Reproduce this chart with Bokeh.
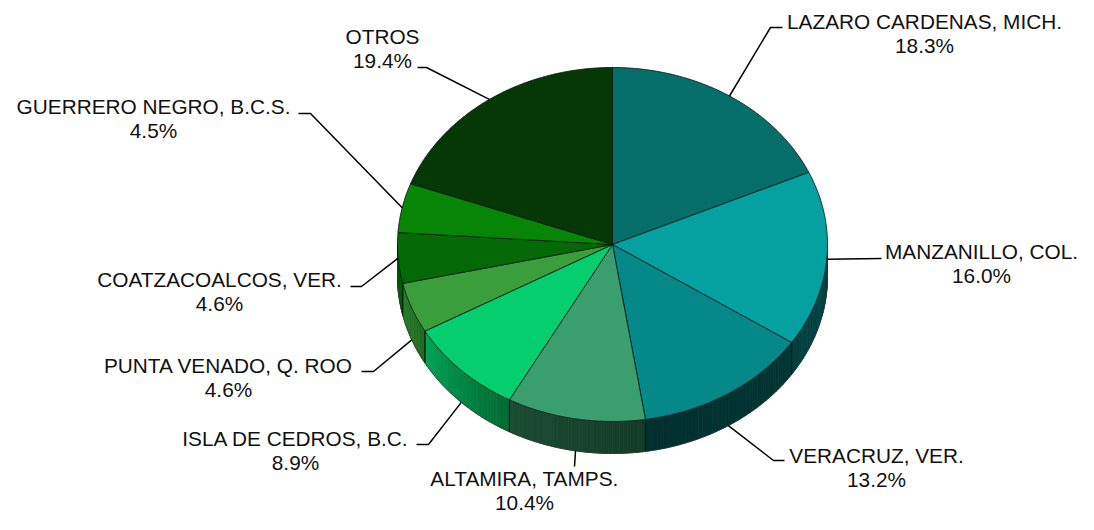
import numpy as np
from bokeh.plotting import figure
from bokeh.models import Range1d
from bokeh.embed import file_html
from bokeh.resources import INLINE
from bokeh.core.properties import value

# ---------------- data ----------------
ports = ["LAZARO CARDENAS, MICH.", "MANZANILLO, COL.", "VERACRUZ, VER.",
         "ALTAMIRA, TAMPS.", "ISLA DE CEDROS, B.C.", "PUNTA VENADO, Q. ROO",
         "COATZACOALCOS, VER.", "GUERRERO NEGRO, B.C.S.", "OTROS"]
shares = [18.3, 16.0, 13.2, 10.4, 8.9, 4.6, 4.6, 4.5, 19.4]

# ---------------- styles ----------------
top_colors = ["#056e6b", "#05a0a0", "#058888", "#3a9e6e", "#05ce6e",
              "#3a9e3a", "#056a05", "#068506", "#053805"]
# side gradient: colour at slice start angle, colour at slice end angle
side_start = ["#004a48", "#004646", "#003634", "#133a27", "#006a32",
              "#206a20", "#045a04", "#056a05", "#042a04"]
side_end = ["#004a48", "#003f3f", "#002f2d", "#1d4c34", "#00a352",
            "#2a7a2a", "#045a04", "#056a05", "#042a04"]

# label layout (text centre x, first baseline y, elbow, end of leader)
lab_x = [926, 983, 878, 526, 297, 230, 221, 155, 384]
lab_y = [31, 261, 465, 488, 448, 375, 289, 116, 46]
elbow = [(772, 30), (883, 261), (775, 463), (576, 469), (430, 447),
         (375, 374), (363, 289), (312, 116), (428, 70)]
lead_end = [(784, 30), (883, 261), (786, 463), (576, 469), (418, 447),
            (363, 374), (352, 289), (300, 116), (419, 70)]
text_shift = 7   # compensation for the renderer's baseline placement

W, H = 1078, 514
p = figure(width=W, height=H, x_range=Range1d(2, 2 + W), y_range=Range1d(3 + H, 3),
           output_backend="svg", toolbar_location=None, min_border=0,
           x_axis_type=None, y_axis_type=None)
p.grid.visible = False
p.outline_line_color = None
p.background_fill_color = "white"

cx, cy, rx, ry, depth = 614, 247, 215, 177, 32

vals = np.array(shares, dtype=float)
cum = np.concatenate([[0], np.cumsum(vals)]) / vals.sum() * 2 * np.pi


def ex(t):
    return cx + rx * np.sin(t)


def ey(t):
    return cy - ry * np.cos(t)


def hex2rgb(h):
    h = h.lstrip("#")
    return np.array([int(h[i:i + 2], 16) for i in (0, 2, 4)], dtype=float)


def rgb2hex(c):
    c = np.clip(np.round(c), 0, 255).astype(int)
    return "#%02x%02x%02x" % tuple(c)


# ---- sides (front half only) ----
sx, sy, sc = [], [], []
edge_x, edge_y = [], []
for i in range(len(vals)):
    t0, t1 = cum[i], cum[i + 1]
    a, b = max(t0, np.pi / 2), min(t1, 3 * np.pi / 2)
    if b <= a:
        continue
    n = max(2, int((b - a) / np.radians(1.0)) + 1)
    ts = np.linspace(a, b, n + 1)
    c0, c1 = hex2rgb(side_start[i]), hex2rgb(side_end[i])
    for k in range(n):
        ta, tb = ts[k], ts[k + 1]
        f = ((ta + tb) / 2 - t0) / (t1 - t0)
        col = rgb2hex(c0 + (c1 - c0) * f)
        sx.append([ex(ta), ex(tb), ex(tb), ex(ta)])
        sy.append([ey(ta), ey(tb), ey(tb) + depth, ey(ta) + depth])
        sc.append(col)
    for t in (t0, t1):
        if np.pi / 2 < t < 3 * np.pi / 2:
            edge_x.append([ex(t), ex(t)])
            edge_y.append([ey(t), ey(t) + depth])

p.patches(sx, sy, fill_color=sc, line_color=sc, line_width=0.8)
p.multi_line(edge_x, edge_y, line_color="#0a1a12", line_width=1, line_alpha=0.8)
tb_ = np.linspace(np.pi / 2, 3 * np.pi / 2, 200)
p.line(ex(tb_), ey(tb_) + depth, line_color="#333333", line_width=1, line_alpha=0.7)

# ---- top faces ----
tx, ty = [], []
for i in range(len(vals)):
    ts = np.linspace(cum[i], cum[i + 1], max(3, int((cum[i + 1] - cum[i]) / np.radians(0.5))))
    tx.append(np.concatenate([[cx], ex(ts)]))
    ty.append(np.concatenate([[cy], ey(ts)]))
p.patches(tx, ty, fill_color=top_colors, line_color="#0d1a14", line_width=1, line_alpha=0.85)

# ---- leaders ----
lx, ly = [], []
for i in range(len(vals)):
    tm = (cum[i] + cum[i + 1]) / 2
    off = depth * min(1.0, max(0.0, (-np.cos(tm) - 0.1) * 4))
    x0, y0 = ex(tm), ey(tm) + off
    lx.append([x0, elbow[i][0], lead_end[i][0]])
    ly.append([y0, elbow[i][1], lead_end[i][1]])
p.multi_line(lx, ly, line_color="black", line_width=1.5)

# ---- labels ----
pct = ["%.1f%%" % v for v in shares]
font = value("Liberation Sans")
p.text(x=lab_x, y=[y - text_shift for y in lab_y], text=ports, text_align="center",
       text_baseline="alphabetic", text_font=font, text_font_size="20.8px",
       text_color="#111111")
p.text(x=lab_x, y=[y + 24 - text_shift for y in lab_y], text=pct, text_align="center",
       text_baseline="alphabetic", text_font=font, text_font_size="20.8px",
       text_color="#111111")

open("out.html", "w").write(file_html(p, INLINE))
